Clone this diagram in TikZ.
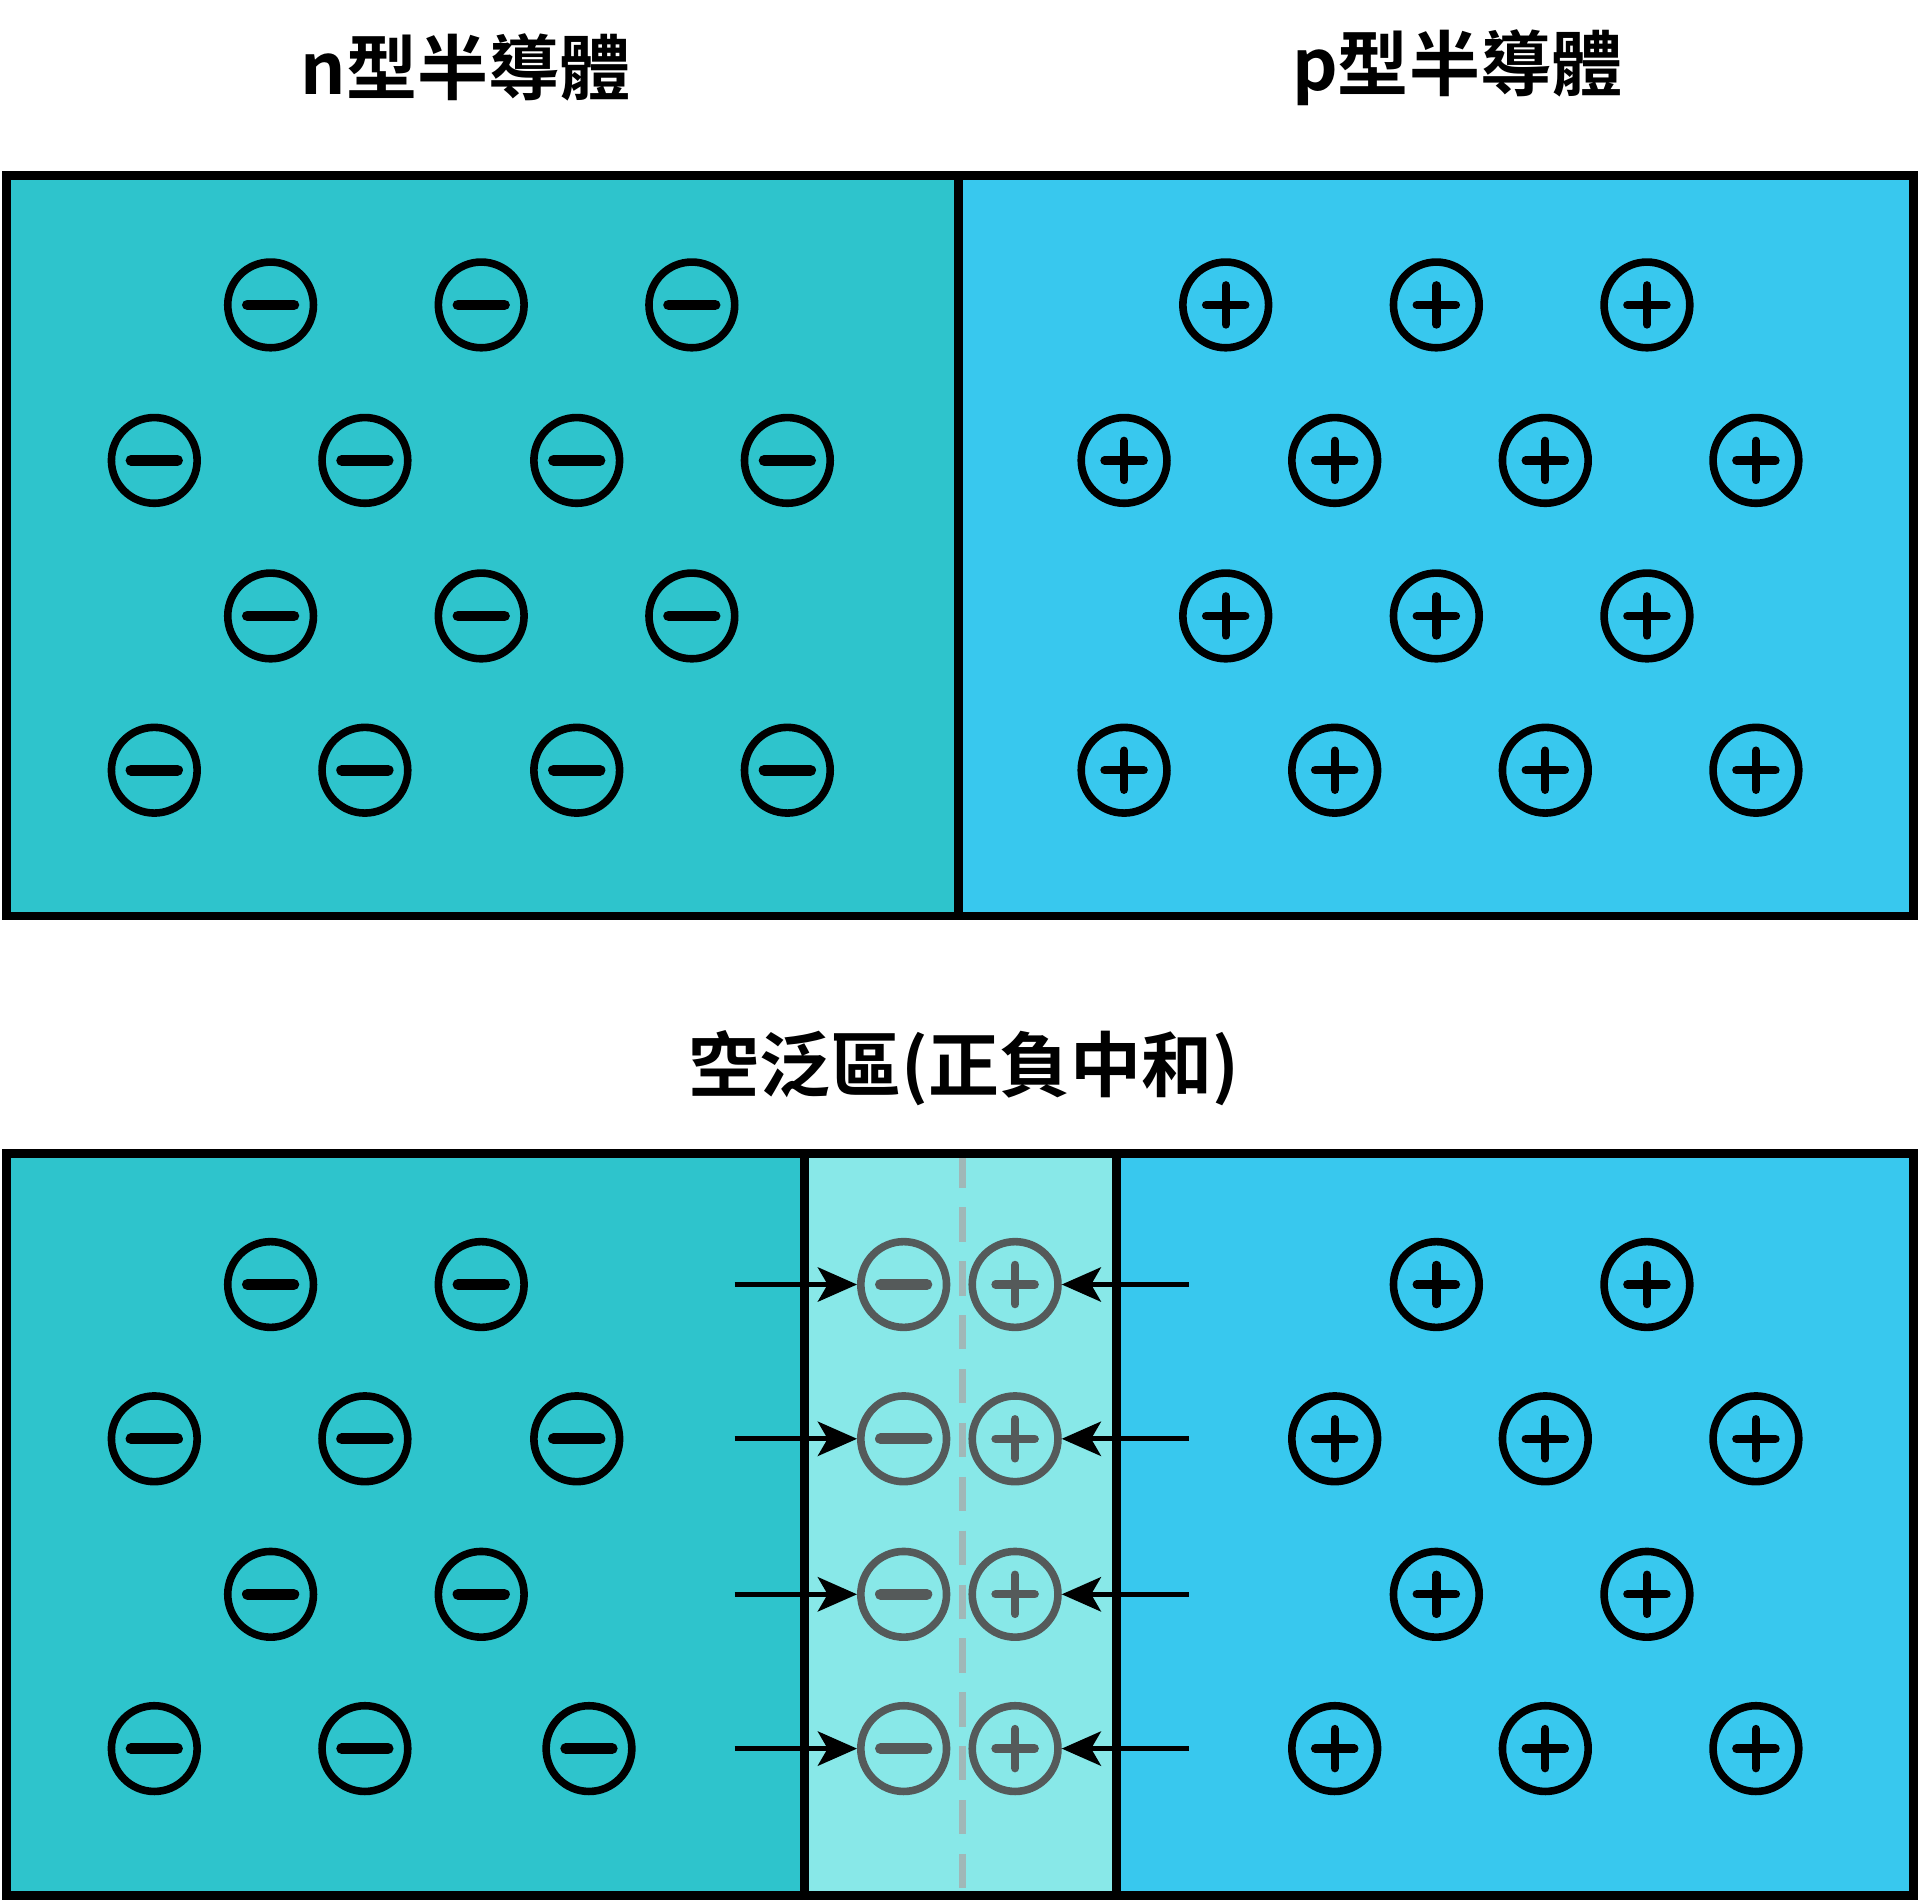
\documentclass[tikz,border=0pt]{standalone}
\usepackage{fontspec}
\newfontfamily\cjk{Noto Sans CJK TC Bold}
\usetikzlibrary{arrows.meta}
\definecolor{nfill}{HTML}{2EC4CC}
\definecolor{pfill}{HTML}{38C8EE}
\definecolor{dfill}{HTML}{88E8E8}
\definecolor{ion}{HTML}{555A5A}
\definecolor{dashcol}{HTML}{A0B8B8}
\tikzset{
  ionc/.style={circle,draw=#1,line width=3.1pt,minimum size=35pt,inner sep=0pt},
  box/.style={draw=black,line width=3.6pt},
  title/.style={font=\cjk\fontsize{29}{29}\selectfont},
  push/.style={line width=1.9pt,-{Stealth[length=16pt,width=14pt,inset=4pt]}}
}
\newcommand{\negion}[3][black]{\node[ionc=#1] (#2) at #3 {}; \draw[#1,line width=4.4pt,line cap=round] ([xshift=-9.5pt]#2.center) -- ([xshift=9.5pt]#2.center);}
\newcommand{\posion}[3][black]{\node[ionc=#1] (#2) at #3 {}; \draw[#1,line width=3.4pt,line cap=round] ([xshift=-8pt]#2.center) -- ([xshift=8pt]#2.center) ([yshift=-8pt]#2.center) -- ([yshift=8pt]#2.center);}
\begin{document}
\begin{tikzpicture}[x=0.5pt,y=-0.5pt]
\useasboundingbox (0,0) rectangle (1568,1554);
% top
\fill[nfill] (5,143) rectangle (783,748);
\fill[pfill] (783,143) rectangle (1563,748);
\draw[box] (5,143) rectangle (1563,748);
\draw[box] (783,143) -- (783,748);
\node[title] (tn) at (380,55) {n型半導體};
\node[title] (tp) at (1190,55) {p型半導體};
\foreach \x/\y [count=\i] in {221/249,393/249,565/249,126/376,298/376,471/376,643/376,221/503,393/503,565/503,126/629,298/629,471/629,643/629}{\negion{tm\i}{(\x,\y)}}
\foreach \x/\y [count=\i] in {1001/249,1173/249,1345/249,918/376,1090/376,1262/376,1434/376,1001/503,1173/503,1345/503,918/629,1090/629,1262/629,1434/629}{\posion{tq\i}{(\x,\y)}}
% bottom
\fill[nfill] (5,942) rectangle (657,1548);
\fill[dfill] (657,942) rectangle (912,1548);
\fill[pfill] (912,942) rectangle (1563,1548);
\draw[dashcol,line width=3.2pt,dash pattern=on 14pt off 8pt] (786,942) -- (786,1548);
\draw[box] (5,942) rectangle (1563,1548);
\draw[box] (657,942) -- (657,1548) (912,942) -- (912,1548);
\node[title] (td) at (787,872) {空泛區(正負中和)};
\foreach \x/\y [count=\i] in {221/1049,393/1049,126/1175,298/1175,471/1175,221/1302,393/1302,126/1428,298/1428,481/1428}{\negion{bm\i}{(\x,\y)}}
\foreach \x/\y [count=\i] in {1173/1049,1345/1049,1090/1175,1262/1175,1434/1175,1173/1302,1345/1302,1090/1428,1262/1428,1434/1428}{\posion{bq\i}{(\x,\y)}}
\foreach \y [count=\i] in {1049,1175,1302,1428}{
  \negion[ion]{dm\i}{(738,\y)}
  \posion[ion]{dp\i}{(829,\y)}
  \coordinate (al\i) at (600,\y);
  \coordinate (ar\i) at (971,\y);
  \draw[push] (al\i) -- (dm\i.west);
  \draw[push] (ar\i) -- (dp\i.east);
}
\end{tikzpicture}
\end{document}
